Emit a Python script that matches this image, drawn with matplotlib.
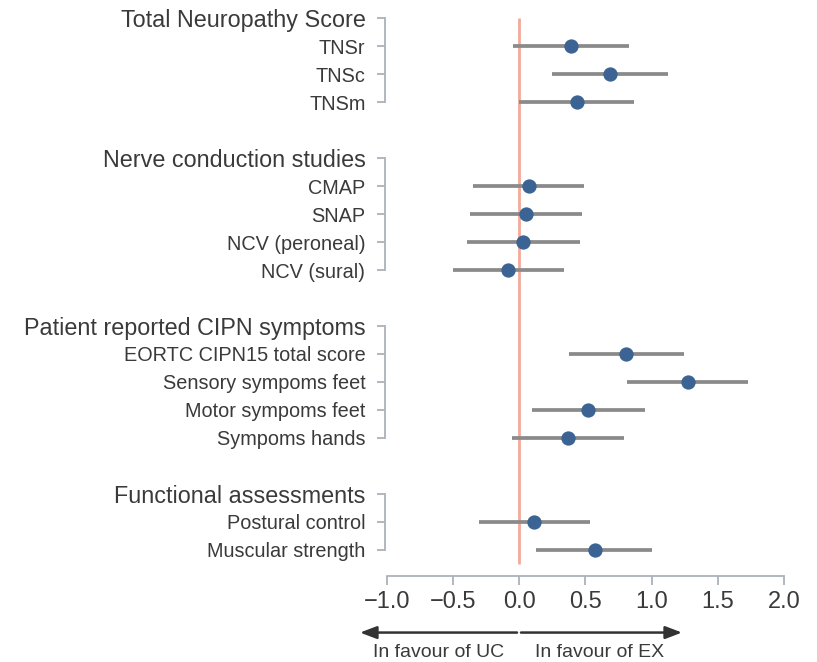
import matplotlib
matplotlib.use("Agg")
import matplotlib.pyplot as plt
from matplotlib.transforms import blended_transform_factory

plt.rcParams["font.family"] = ["Liberation Sans", "DejaVu Sans"]

# Groups of outcomes with standardised effect estimates and 95% CIs
groups = [
    "Total Neuropathy Score",
    "Nerve conduction studies",
    "Patient reported CIPN symptoms",
    "Functional assessments",
]
outcomes = [
    ["TNSr", "TNSc", "TNSm"],
    ["CMAP", "SNAP", "NCV (peroneal)", "NCV (sural)"],
    ["EORTC CIPN15 total score", "Sensory sympoms feet",
     "Motor sympoms feet", "Sympoms hands"],
    ["Postural control", "Muscular strength"],
]
estimates = [
    [0.39, 0.685, 0.435],
    [0.073, 0.053, 0.03, -0.083],
    [0.808, 1.274, 0.519, 0.368],
    [0.113, 0.57],
]
ci_low = [
    [-0.05, 0.245, 0.0],
    [-0.347, -0.37, -0.393, -0.5],
    [0.375, 0.811, 0.093, -0.057],
    [-0.307, 0.124],
]
ci_high = [
    [0.83, 1.125, 0.87],
    [0.49, 0.476, 0.458, 0.34],
    [1.244, 1.73, 0.95, 0.79],
    [0.534, 1.005],
]
xticks = [-1.0, -0.5, 0.0, 0.5, 1.0, 1.5, 2.0]
left_label = "In favour of UC"
right_label = "In favour of EX"

TEXT = "#3a3a3a"
AXIS = "#aab2ba"
BAR = "#8a8a8a"
DOT = "#3b6494"
REF = "#f3a99b"

fig = plt.figure(figsize=(8.17, 6.62), dpi=100)
ax = fig.add_axes([0.4711, 0.1299, 0.9678 - 0.4711, 0.864])

# lay out rows: header, items, then one blank row before next header
row = 0
tick_pos, tick_lab, is_header, brackets = [], [], [], []
for g, name in enumerate(groups):
    start = row
    tick_pos.append(row); tick_lab.append(name); is_header.append(True)
    row += 1
    for i, lab in enumerate(outcomes[g]):
        lo, hi, est = ci_low[g][i], ci_high[g][i], estimates[g][i]
        ax.plot([lo, hi], [row, row], color=BAR, lw=2.7, solid_capstyle="butt", zorder=2)
        ax.plot(est, row, "o", color=DOT, ms=10.3, mew=0, zorder=4)
        tick_pos.append(row); tick_lab.append(lab); is_header.append(False)
        row += 1
    brackets.append((start, row - 1))
    row += 1
last_row = row - 2

ax.vlines(0, 0, last_row + 0.5, color=REF, lw=2, zorder=1)

ax.set_xlim(-1.015, 2.05)
ax.set_ylim(last_row + 0.93, -0.5)

for s in ["top", "right", "left"]:
    ax.spines[s].set_visible(False)
ax.spines["bottom"].set_bounds(-1.0, 2.0)
ax.spines["bottom"].set_color(AXIS)
ax.spines["bottom"].set_linewidth(1.3)

ax.set_xticks(xticks)
ax.set_xticklabels([f"{v:.1f}".replace("-", "\u2212") for v in xticks])
ax.tick_params(axis="x", direction="out", length=6.5, width=1.3, color=AXIS,
               labelsize=17, labelcolor=TEXT, pad=4)

ax.set_yticks(tick_pos)
ax.set_yticklabels(tick_lab)
ax.tick_params(axis="y", direction="out", length=6, width=1.3, color=AXIS,
               labelcolor=TEXT, pad=8)
for lbl, h in zip(ax.get_yticklabels(), is_header):
    lbl.set_fontsize(16.8 if h else 14.3)

# bracket segments along the left edge for each group
trans = blended_transform_factory(ax.transAxes, ax.transData)
for a, b in brackets:
    ax.plot([0, 0], [a, b], color=AXIS, lw=1.3, transform=trans, clip_on=False)

# direction arrows below the axis
arrow_y = last_row + 2.95
ax.annotate("", xy=(-1.203, arrow_y), xytext=(-0.017, arrow_y),
            arrowprops=dict(arrowstyle="-|>,head_length=1.0,head_width=0.38",
                            color="#333333", lw=1.8, shrinkA=0, shrinkB=0),
            annotation_clip=False)
ax.annotate("", xy=(1.229, arrow_y), xytext=(0.013, arrow_y),
            arrowprops=dict(arrowstyle="-|>,head_length=1.0,head_width=0.38",
                            color="#333333", lw=1.8, shrinkA=0, shrinkB=0),
            annotation_clip=False)
label_y = last_row + 3.82
ax.text(-0.607, label_y, left_label, ha="center", va="baseline",
        fontsize=14, color=TEXT, clip_on=False)
ax.text(0.61, label_y, right_label, ha="center", va="baseline",
        fontsize=14, color=TEXT, clip_on=False)

fig.savefig("out.png", dpi=100)
